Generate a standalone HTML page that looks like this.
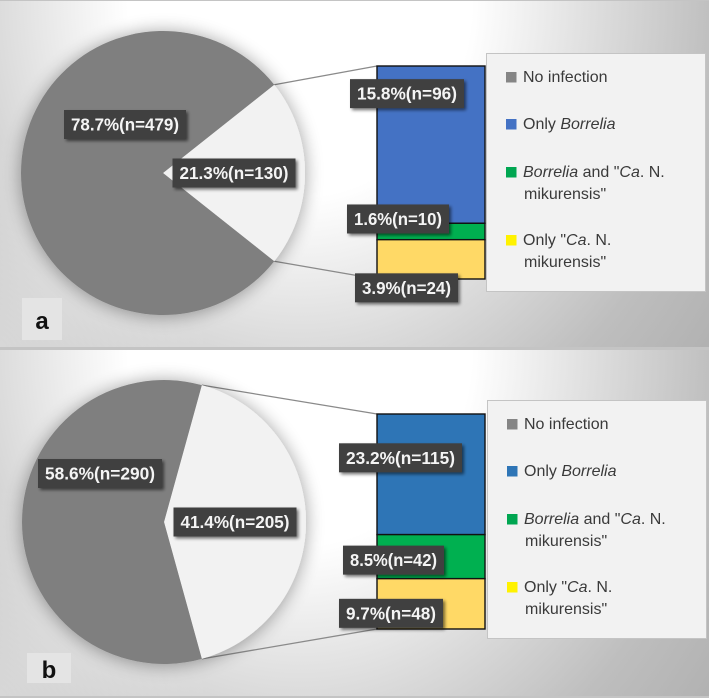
<!DOCTYPE html>
<html lang="en">
<head>
<meta charset="utf-8">
<title>Infection share pie-of-bar charts</title>
<style>
html,body{margin:0;padding:0;background:#fff;width:709px;height:698px;overflow:hidden}
svg{display:block}
text{font-family:"Liberation Sans",sans-serif}
</style>
</head>
<body>
<svg id="chart" xmlns="http://www.w3.org/2000/svg" width="709" height="698" viewBox="0 0 709 698">
<defs>
<radialGradient id="bgGrad" gradientUnits="userSpaceOnUse" cx="0" cy="0" r="1" gradientTransform="translate(300 0) scale(537 612)">
<stop offset="0" stop-color="#ffffff"/>
<stop offset="0.32" stop-color="#ffffff"/>
<stop offset="0.56" stop-color="#dcdcdc"/>
<stop offset="0.776" stop-color="#bebebe"/>
<stop offset="1" stop-color="#aeaeae"/>
</radialGradient>
<radialGradient id="cornerGlow" gradientUnits="userSpaceOnUse" cx="0" cy="346" r="210">
<stop offset="0" stop-color="#ffffff" stop-opacity="0.4"/>
<stop offset="1" stop-color="#ffffff" stop-opacity="0"/>
</radialGradient>
<filter id="pieShadow" x="-20%" y="-20%" width="140%" height="140%">
<feGaussianBlur in="SourceAlpha" stdDeviation="9"/>
<feOffset dx="0" dy="1"/>
<feComponentTransfer><feFuncA type="linear" slope="0.38"/></feComponentTransfer>
<feMerge><feMergeNode/><feMergeNode in="SourceGraphic"/></feMerge>
</filter>
<filter id="labelShadow" x="-10%" y="-20%" width="125%" height="150%">
<feGaussianBlur in="SourceAlpha" stdDeviation="1.6"/>
<feOffset dx="2" dy="2"/>
<feComponentTransfer><feFuncA type="linear" slope="0.55"/></feComponentTransfer>
<feMerge><feMergeNode/><feMergeNode in="SourceGraphic"/></feMerge>
</filter>
<filter id="soft" x="-5%" y="-5%" width="110%" height="110%"><feGaussianBlur stdDeviation="0.35"/></filter>
</defs>
</svg>
<script>
// ----- data -----
const panelNames = ['a', 'b'];
const pieValuesA = [479, 130];
const pieValuesB = [290, 205];
const pieLabelsA = ['78.7%(n=479)', '21.3%(n=130)'];
const pieLabelsB = ['58.6%(n=290)', '41.4%(n=205)'];
const barValuesA = [96, 10, 24];
const barValuesB = [115, 42, 48];
const barLabelsA = ['15.8%(n=96)', '1.6%(n=10)', '3.9%(n=24)'];
const barLabelsB = ['23.2%(n=115)', '8.5%(n=42)', '9.7%(n=48)'];

const NS = 'http://www.w3.org/2000/svg';
const svg = document.getElementById('chart');

function mk(tag, attrs, parent) {
  const el = document.createElementNS(NS, tag);
  for (const k in attrs) el.setAttribute(k, attrs[k]);
  (parent || svg).appendChild(el);
  return el;
}

function drawLabel(g, cx, cy, w, txt, name) {
  const h = 29;
  const lg = mk('g', { filter: 'url(#labelShadow)' }, g);
  
  
  mk('rect', { x: cx - w / 2, y: cy - h / 2, width: w, height: h, fill: '#404040' }, lg);
  const t = mk('text', {
    x: cx, y: cy + 6, fill: '#f4f4f4', 'font-size': 17.5, 'font-weight': 'bold',
    'text-anchor': 'middle', textLength: w - 14, lengthAdjust: 'spacingAndGlyphs'
  }, lg);
  t.textContent = txt;
}

function drawLegendEntry(g, x, y, color, parts, name, second) {
  const eg = mk('g', {}, g);
  
  
  mk('rect', { x: x, y: y - 10, width: 10.5, height: 10.5, fill: color }, eg);
  const t = mk('text', { x: x + 17, y: y, 'font-size': 16, fill: '#3a3a3a' }, eg);
  parts.forEach(function (p) {
    const s = mk('tspan', p[1] ? { 'font-style': 'italic' } : {}, t);
    s.textContent = p[0];
  });
  if (second) {
    const t2 = mk('text', { x: x + 18, y: y + 22, 'font-size': 16, fill: '#3a3a3a' }, eg);
    t2.textContent = second;
  }
}

function drawPanel(p) {
  const g = mk('g', { transform: 'translate(0 ' + p.top + ')' });
  
  

  // background
  const bg = mk('rect', { x: 0, y: 0, width: 709, height: p.height, fill: 'url(#bgGrad)' }, g);
  
  
  const glow = mk('rect', { x: 0, y: 0, width: 709, height: p.height, fill: 'url(#cornerGlow)' }, g);
  
  

  // pie scale
  const total = p.pie[0] + p.pie[1];
  const half = (p.pie[1] / total) * Math.PI;
  const polar = function (a) { return [p.cx + p.r * Math.cos(a), p.cy + p.r * Math.sin(a)]; };
  const top = polar(-half), bot = polar(half);

  // bar scale
  const barTotal = p.bar.reduce(function (a, b) { return a + b; }, 0);
  const yScale = function (v) { return p.barTop + (v / barTotal) * p.barH; };

  // connectors
  const c1 = mk('line', { x1: top[0], y1: top[1], x2: p.barX, y2: p.barTop, stroke: '#8a8a8a', 'stroke-width': 1.3 }, g);
  
  
  const c2 = mk('line', { x1: bot[0], y1: bot[1], x2: p.barX, y2: p.barTop + p.barH, stroke: '#8a8a8a', 'stroke-width': 1.3 }, g);
  
  

  // pie
  const pg = mk('g', { filter: 'url(#pieShadow)' }, g);
  
  
  const large = (2 * half) > Math.PI ? 1 : 0;
  const w = mk('path', {
    d: 'M' + p.cx + ' ' + p.cy + 'L' + top[0] + ' ' + top[1] + 'A' + p.r + ' ' + p.r + ' 0 ' + large + ' 1 ' + bot[0] + ' ' + bot[1] + 'Z',
    fill: '#f2f2f2'
  }, pg);
  
  
  const n = mk('path', {
    d: 'M' + p.cx + ' ' + p.cy + 'L' + bot[0] + ' ' + bot[1] + 'A' + p.r + ' ' + p.r + ' 0 ' + (1 - large) + ' 1 ' + top[0] + ' ' + top[1] + 'Z',
    fill: '#7f7f7f'
  }, pg);
  
  

  // bar
  const bgp = mk('g', {}, g);
  
  
  let run = 0;
  const mids = [];
  const segNames = ['bar-only-borrelia', 'bar-borrelia-and-ca-n-mikurensis', 'bar-only-ca-n-mikurensis'];
  p.bar.forEach(function (v, i) {
    const y0 = yScale(run), y1 = yScale(run + v);
    const seg = mk('rect', { x: p.barX, y: y0, width: p.barW, height: y1 - y0, fill: p.barColors[i], stroke: '#111', 'stroke-width': 1.4 }, bgp);
    
    
    mids.push((y0 + y1) / 2);
    run += v;
  });

  // legend
  const lg = mk('g', {}, g);
  
  
  mk('rect', { x: p.legX + 0.5, y: p.legY + 0.5, width: 219, height: 238, fill: '#f2f2f2', stroke: '#c4c4c4', 'stroke-width': 1 }, lg);
  const lx = p.legX + 20, ly = p.legY;
  drawLegendEntry(lg, lx, ly + 29, '#858585', [['No infection', false]], 'legend-no-infection');
  drawLegendEntry(lg, lx, ly + 76, p.barColors[0], [['Only ', false], ['Borrelia', true]], 'legend-only-borrelia');
  drawLegendEntry(lg, lx, ly + 124, '#00a651', [['Borrelia', true], [' and "', false], ['Ca', true], ['. N.', false]], 'legend-borrelia-and-ca', 'mikurensis"');
  drawLegendEntry(lg, lx, ly + 192, '#fff200', [['Only "', false], ['Ca', true], ['. N.', false]], 'legend-only-ca', 'mikurensis"');

  // data labels, anchored to the mark they describe
  const lp = mk('g', {}, g);
  
  
  drawLabel(lp, p.cx + p.pieNudge[0], p.cy + p.pieNudge[1], p.pieW, p.pieLabels[0], 'label-no-infection');
  drawLabel(lp, p.cx + 71, p.cy, 123, p.pieLabels[1], 'label-infected');
  mids.forEach(function (m, i) {
    drawLabel(lp, p.barX + p.barW / 2 + p.barNudge[i][0], m + p.barNudge[i][1], p.barLabelW[i], p.barLabels[i], 'label-bar-' + (i + 1));
  });

  // panel tag
  const tg = mk('g', {}, g);
  
  
  mk('rect', { x: p.tag[0], y: p.tag[1], width: p.tag[2], height: p.tag[3], fill: '#e4e4e4' }, tg);
  const tt = mk('text', { x: p.tag[0] + p.tag[2] / 2, y: p.tag[4], 'font-size': 24, 'font-weight': 'bold', 'text-anchor': 'middle', fill: '#111' }, tg);
  tt.textContent = p.name;
}

const frame = mk('rect', { x: 0, y: 0, width: 709, height: 698, fill: '#c4c4c4' });



drawPanel({
  name: panelNames[0], top: 1, height: 346,
  cx: 163, cy: 172, r: 142,
  pie: pieValuesA, pieLabels: pieLabelsA, pieNudge: [-38, -48.5], pieW: 122,
  bar: barValuesA, barLabels: barLabelsA,
  barX: 377, barW: 108, barTop: 65, barH: 213,
  barColors: ['#4472c4', '#00b050', '#ffd966'],
  barNudge: [[-24, -51], [-33, -12.5], [-24.5, 28.5]],
  barLabelW: [114, 102, 103],
  legX: 486, legY: 52,
  tag: [22, 297, 40, 42, 328]
});
drawPanel({
  name: panelNames[1], top: 350, height: 346,
  cx: 164, cy: 172, r: 142,
  pie: pieValuesB, pieLabels: pieLabelsB, pieNudge: [-64, -48.5], pieW: 124,
  bar: barValuesB, barLabels: barLabelsB,
  barX: 377, barW: 108, barTop: 64, barH: 215,
  barColors: ['#2e75b6', '#00b050', '#ffd966'],
  barNudge: [[-30.5, -16.5], [-37.5, 3.5], [-40, 9.5]],
  barLabelW: [123, 101, 104],
  legX: 487, legY: 50,
  tag: [27, 303, 44, 30, 328]
});
</script>
</body>
</html>
